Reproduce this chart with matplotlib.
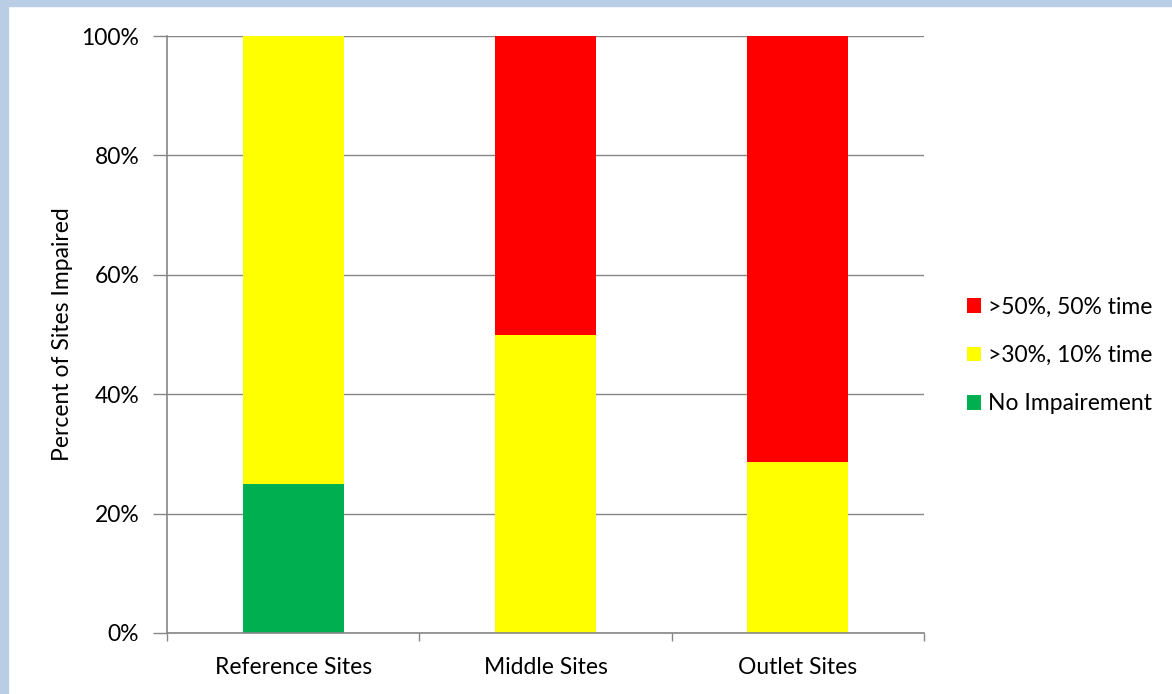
import matplotlib
matplotlib.use("Agg")
import matplotlib.pyplot as plt
from matplotlib.patches import Rectangle
from matplotlib.ticker import PercentFormatter, FixedLocator

# site groups and the share of sites in each impairment class (%)
sites = ["Reference Sites", "Middle Sites", "Outlet Sites"]
no_impairment = [25.0, 0.0, 0.0]
over30_10time = [75.0, 50.0, 28.6]
over50_50time = [0.0, 50.0, 71.4]

plt.rcParams["font.family"] = ["Lato", "DejaVu Sans"]
plt.rcParams["font.size"] = 16.5

axis_grey = "#868686"

fig = plt.figure(figsize=(11.72, 6.94), dpi=100)
ax = fig.add_axes([0.1425, 0.0879, 0.6459, 0.8602])

# light blue frame along the top and left edges
fig.patches.append(Rectangle((0, 1 - 6 / 694), 1, 6 / 694, transform=fig.transFigure,
                             color="#b9cde5", zorder=-1))
fig.patches.append(Rectangle((0, 0), 8 / 1172, 1, transform=fig.transFigure,
                             color="#b9cde5", zorder=-1))

x = range(len(sites))
width = 0.4
b1 = ax.bar(x, no_impairment, width, color="#00b050", label="No Impairement", zorder=3)
bottom2 = no_impairment
b2 = ax.bar(x, over30_10time, width, bottom=bottom2, color="#ffff00",
            label=">30%, 10% time", zorder=3)
bottom3 = [a + b for a, b in zip(no_impairment, over30_10time)]
b3 = ax.bar(x, over50_50time, width, bottom=bottom3, color="#ff0000",
            label=">50%, 50% time", zorder=3)

ax.set_xlim(-0.5, 2.5)
ax.set_ylim(0, 100)
ax.set_yticks(range(0, 101, 20))
ax.yaxis.set_major_formatter(PercentFormatter(decimals=0))
ax.set_xticks(list(x))
ax.set_xticklabels(sites)
ax.xaxis.set_minor_locator(FixedLocator([-0.5, 0.5, 1.5, 2.5]))
ax.tick_params(axis="x", which="major", length=0, pad=17)
ax.tick_params(axis="x", which="minor", length=6, color=axis_grey, width=1)
ax.tick_params(axis="y", length=10, color=axis_grey, width=1, pad=10)
ax.grid(axis="y", color=axis_grey, linewidth=1, zorder=0)
ax.set_axisbelow(True)

for side in ["top", "right"]:
    ax.spines[side].set_visible(False)
for side in ["left", "bottom"]:
    ax.spines[side].set_color(axis_grey)
    ax.spines[side].set_linewidth(1.2)
    ax.spines[side].set_zorder(4)

ax.set_ylabel("Percent of Sites Impaired", labelpad=6)

ax.legend(handles=[b3, b2, b1], loc="center left", bbox_to_anchor=(1.045, 0.465),
          frameon=False, handlelength=0.6, handleheight=0.6, handletextpad=0.3,
          labelspacing=1.2, borderaxespad=0)

fig.savefig("out.png", dpi=100)
